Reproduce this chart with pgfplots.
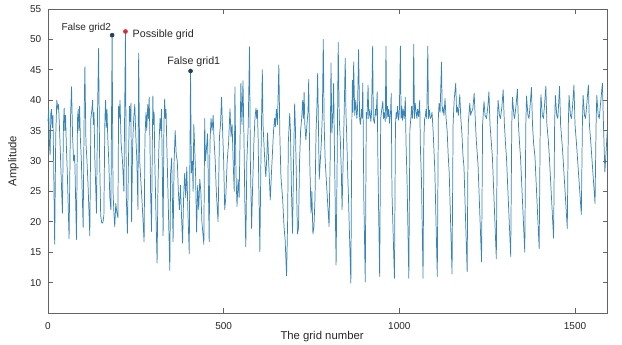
\documentclass[border=0pt]{standalone}
\usepackage{pgfplots}
\pgfplotsset{compat=1.18}
\usepackage{pgfplotstable}
\usepackage{fontspec}
\setmainfont{Liberation Sans}
\definecolor{sig}{RGB}{55,132,182}
\definecolor{mk}{RGB}{35,65,95}
\definecolor{hit}{RGB}{225,40,55}
\definecolor{axg}{RGB}{100,100,100}
\pgfplotstableread{
x y
0 36.5
2 38.5
4 33
6 31
8 37.8
10 38.5
12 35.5
14 37.5
16 30
19 16.3
22 34
25 40
28 38.5
30 39.3
33 35
36 30
41 21.4
44 36
46 38.7
48 35
50 37.5
52 33
55 28
60 17.2
64 37
67 42.2
70 34
73 30
76 31
81 17.1
84 37
86 38.5
88 35
90 39
92 34
95 30
100 19.1
103 38
105 45.5
108 33
111 30
114 26
119 17.7
122 37
125 38.5
127 40
129 36
131 38
133 31
138 21.4
141 38
144 48.5
147 30
150 21
153 19.8
156 19.8
159 21
162 37
164 40
166 35.5
168 38.5
170 34
173 30
176 24
179 22
182.5 50.7
185 25
188 21
190 19.2
193 23
196 21.5
199 20.7
201 39
203 37
205 40
208 33
212 30
216 25
220.5 51.3
223 24
226 18.1
229 30
232 39
234 36.5
236 39.5
238 20
241 33
244 37
247 39.3
250 34
253 30
256 22
258 47.7
261 30
264 27
268 23
273.5 16.7
276 34
279 38
281 35
284 39.3
286 37
288 40.5
290 34
292 25
294.6 18.4
297 33
298.5 40.7
300 36
302 38
304 30
307 22
310.5 13.2
313 26
316 33
319 37
321 35
323 38.5
325 30
327.6 17.7
330 36
332 40.2
334 37
336 38.5
338 33
341 26
346.7 12
349 28
352 30.5
354 24
356 16.7
359 30
362 35
365 31
368 30
371 25
374 22
377 26
380 21
383 16.5
386 24
389 28
392 24
395 29
398 22
402 14.8
405.7 44.8
408 28
411 30
413 25
415 36
417 33
420 28
423 18.3
426 26
429 22
432 27
435 25
438 20
443.6 16.3
446 37
448 30
451 32
454 34.5
456 28
458.7 16.7
461 33
464 37
467 35
470 37.5
473 33
476 30
479 25
484 20
488 34
491 36
494 40.5
497 35
500 30
503 22
506 24
510 30
514 33
518 38.6
521 34
524 36
527 30
530 25
532 42.2
535 28
538 22.5
541 27
544 24
547 35
549 42.8
552 36
555 43.2
558 33
560 24
563 15.9
566 30
570 36
573.5 48.8
576 30
579.5 18.9
582 25
586 33
589 37
592 38.7
594 37
596 38.4
598 34
600 26
603 15.1
606 30
610 45
612 36
615 32.4
618 29
620 27.4
623 31
625 34.6
628 30
632.6 23.6
636 28
639 31.5
642 35
645 37
647 35.6
650 38.5
653 36
657 45.8
660 34
663 27.4
668 23.6
672 19
675 17
679 11.1
682 20
684 33
688 37.8
690 35
693 25
696 18.1
699 30
702 39.4
704 36
707 27
710 18
713 19
716 30
719 35
722 37
725 40
727 37
729 41.3
731 36
734 33.5
737 36
740 38
742 43.4
745 30
748.6 21.4
751 25
754 18
757 19.2
760 24
763 35
765 38
767.5 44.4
770 35
772 27
775 30
778 33
781 38
783.5 50
786 36
789 30
791 28
795 24
800 19.2
803 30
805.5 46.1
808 34.6
811 38
813 42.8
815 33
817 25
820 12.9
823 30
826 49.5
829 37
832 33.5
835 28
837 22
840 30
843 38
846 46.9
848 38
850 34.6
853 28
855 24.4
862 9.9
865 38
866.5 43.3
868 38
870 46.3
873 37.5
876 40
879 37
881 38.5
884 48.3
887 37
889 36
892 38.5
894 37
896 42.8
898 30
899 23.6
903 10.1
906 38
908 37
911 42.5
913 37
916 38.5
919 36.5
921 38
924 48.9
926 37
929 36.2
932 38.5
934 37.5
937 41.4
939 30
941 21.9
944 11
947 37
950 38.5
953 39.8
955 37
957 38
960 36.5
962 48.9
964 37
966 39
968 37.3
970 38.5
972 36.2
975 38
977 41.1
979 24.9
986 10.7
989 36
991 38
993 37
995 39
998 36.7
1000 38
1003 48.9
1005 37
1007 39
1009 36.7
1011 38.5
1014 37
1017 40.5
1019 33
1022 26.6
1027 10.7
1030 35
1033 37.3
1035 39
1037 37
1039 38
1041 49.2
1043 37
1045 39.5
1047 38.4
1050 37
1052 38.5
1055 37.3
1058 40
1060 32
1063 26.9
1067.5 10.7
1070 34
1072 37
1074 37.3
1076 38.5
1078 37
1081 48.9
1083 37
1086 38.4
1088 37
1091 37.3
1093 38
1096 35.1
1101 28.5
1108 11
1111 37
1113 39.5
1116 38
1120 46.3
1122 38
1124 38.9
1127 37.5
1130 40.3
1133 37
1136 35
1139 31
1142 28
1150 11.4
1153 36
1156 40
1160.5 42.8
1163 38
1165 38.9
1168 37.5
1172 40.9
1175 37
1178 34.6
1181 31
1184 29
1193 11.8
1196 36
1200.5 39.5
1203 37.5
1205 38
1209 38.5
1213 41.1
1216 37
1219 33.4
1222 31
1224 29.4
1234 13.4
1237 36
1241 39.8
1244 37.5
1248 37
1252 39
1255 41.4
1258 36
1262 32.9
1265 30.5
1276 13.9
1279 36
1281 40
1285 37.5
1288 37
1292 39
1295.5 41.7
1299 36
1302 33
1305 30.5
1317 14.3
1320 36
1322 40.5
1326 37.5
1328 37
1332 39
1336 41.8
1339 36
1342 33
1345 30.5
1357 15
1360 36
1362 40.7
1366 37.5
1369 37
1372 39
1376 42.1
1379 36
1382 33
1386 30.7
1398 15.6
1401 36
1403 40.9
1407 37.5
1410 37
1413 39
1417 42.3
1420 36
1424 33.4
1427 30.7
1439 17.3
1442 36
1444 40.8
1448 37.5
1451 37
1453 39
1456 42.3
1459 36
1463 33
1466 30.5
1478 18.9
1481 36
1483 40.8
1487 37.5
1490 37
1493 39
1497 42.5
1500 36
1504 33
1507 30.5
1518 21.2
1521 36
1523 40.8
1527 37.5
1530 37
1533 39
1538 42.5
1541 36
1545 33
1548 30.5
1557 23
1560 36
1562 40.8
1566 37.5
1569 37
1572 39
1578 42.8
1581 36
1585 28.2
1592 35
}\datatable
\begin{document}
\begin{tikzpicture}
\begin{axis}[
  scale only axis,
  width=419.5pt, height=228pt,
  xmin=0, xmax=1592, ymin=5, ymax=55,
  xtick={0,500,1000,1500},
  ytick={10,15,20,25,30,35,40,45,50,55},
  tick align=inside,
  major tick length=3.5pt,
  axis line style={axg, line width=0.6pt},
  tick style={axg, line width=0.5pt},
  /pgf/number format/assume math mode=true,
  /pgf/number format/1000 sep={},
  ticklabel style={font=\fontsize{7.5}{9}\selectfont, text=black!85},
  xticklabel style={yshift=-3.5pt},
  yticklabel style={xshift=-1.5pt},
  xlabel={The grid number},
  ylabel={Amplitude},
  label style={font=\fontsize{8.5}{10}\selectfont, text=black!85},
  xlabel style={at={(axis description cs:0.49,-0.079)}, anchor=center},
  ylabel style={at={(axis description cs:-0.062,0.5)}, anchor=center},
  clip=false,
]
\addplot[sig, line width=0.55pt, line join=round] table[x=x,y=y]{\datatable};
\addplot[only marks, mark=*, mark size=1.5pt, mk] coordinates {(182.5,50.7) (405.7,44.8)};
\addplot[only marks, mark=*, mark size=1.5pt, hit] coordinates {(220.5,51.3)};
\node[font=\fontsize{7.5}{9}\selectfont, text=black!85] at (axis cs:109,51.9) {False grid2};
\node[font=\fontsize{8}{9}\selectfont, text=black!85] at (axis cs:328,50.8) {Possible grid};
\node[font=\fontsize{8}{9}\selectfont, text=black!85] at (axis cs:415,46.4) {False grid1};
\end{axis}
\pgfresetboundingbox
\path[use as bounding box] ([shift={(-36pt,-24pt)}]current axis.south west) rectangle ([shift={(11pt,6.75pt)}]current axis.north east);
\end{tikzpicture}
\end{document}
